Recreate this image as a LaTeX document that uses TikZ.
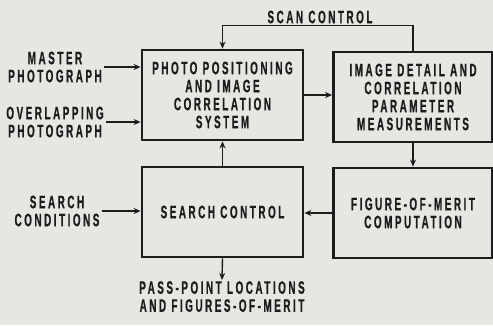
\documentclass[tikz,border=0pt]{standalone}
\usepackage{fontspec}
\setmainfont{Liberation Sans}[BoldFont={* Bold}]
\newfontfamily\lettering{Liberation Sans Bold}[FakeStretch=0.55,LetterSpace=14,FakeBold=0.6]
\usetikzlibrary{arrows.meta}
\definecolor{paper}{HTML}{E6E6E3}
\definecolor{ink}{HTML}{1C1C1C}
\begin{document}
\begin{tikzpicture}[x=1pt,y=-1pt,
  font=\lettering\fontsize{18}{18}\selectfont,
  every node/.style={text=ink},
  block/.style={draw=ink,line width=2.8pt,minimum width=161pt,minimum height=90pt,
    align=center,inner sep=0pt},
  label/.style={align=center,inner sep=2pt},
  flow/.style={draw=ink,line width=1.4pt,-{Stealth[length=7pt,width=6pt]}}]
  \fill[paper] (0,0) rectangle (493,325);
  \useasboundingbox (0,0) rectangle (493,325);

  % processing blocks
  \node[block] (pos) at (222.5,95) {PHOTO POSITIONING\\AND IMAGE\\CORRELATION\\SYSTEM};
  \node[block,minimum width=159pt] (meas) at (413,97) {IMAGE DETAIL AND\\CORRELATION\\PARAMETER\\MEASUREMENTS};
  \node[block] (search) at (222.5,212) {SEARCH CONTROL};
  \node[block,minimum width=159pt] (fom) at (413,213) {FIGURE-OF-MERIT\\COMPUTATION};

  % inputs and outputs
  \node[label] (master) at (55,67) {MASTER\\PHOTOGRAPH};
  \node[label] (overlap) at (55,122) {OVERLAPPING\\PHOTOGRAPH};
  \node[label] (cond) at (57,211) {SEARCH\\CONDITIONS};
  \node[label,anchor=north,inner sep=1pt] (pass) at (222,280) {PASS-POINT LOCATIONS\\AND FIGURES-OF-MERIT};
  \node[label] (scan) at (320,17) {SCAN CONTROL};

  % connectors
  \draw[flow] (master.east) -- (master.east -| pos.west);
  \draw[flow] (overlap.east) -- (overlap.east -| pos.west);
  \draw[flow] (cond.east) -- (cond.east -| search.west);
  \draw[flow] (pos.east) -- (pos.east -| meas.west);
  \draw[flow] (meas.south) -- (fom.north);
  \draw[flow] (fom.west) -- (fom.west -| search.east);
  \draw[flow] (search.north) -- (pos.south);
  \draw[flow] (search.south) -- (pass.north);
  \draw[flow] (meas.north) -- ++(0,-25) -| (pos.north);
\end{tikzpicture}
\end{document}
